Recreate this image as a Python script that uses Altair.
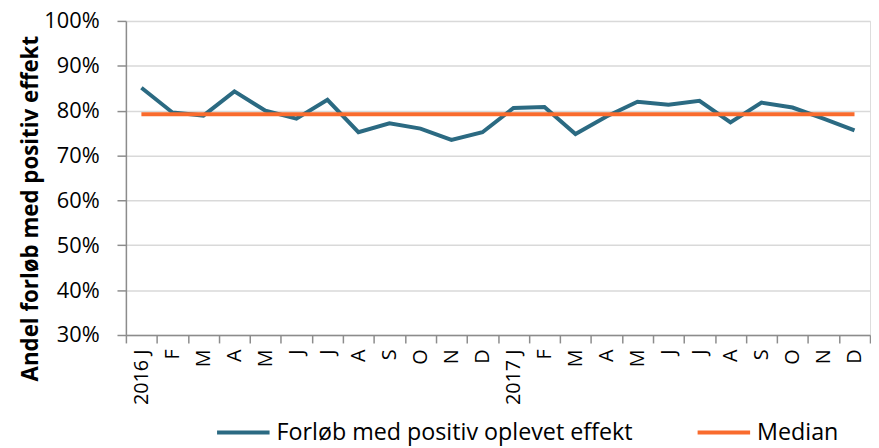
import json
import altair as alt
import pandas as pd

keys = ["2016-01", "2016-02", "2016-03", "2016-04", "2016-05", "2016-06",
        "2016-07", "2016-08", "2016-09", "2016-10", "2016-11", "2016-12",
        "2017-01", "2017-02", "2017-03", "2017-04", "2017-05", "2017-06",
        "2017-07", "2017-08", "2017-09", "2017-10", "2017-11", "2017-12"]
tick_labels = ["2016 J", "F", "M", "A", "M", "J", "J", "A", "S", "O", "N", "D",
               "2017 J", "F", "M", "A", "M", "J", "J", "A", "S", "O", "N", "D"]
positive = [85.1, 79.6, 78.9, 84.3, 80.0, 78.2, 82.4, 75.2, 77.2, 76.0, 73.5, 75.2,
            80.6, 80.8, 74.8, 78.7, 82.0, 81.3, 82.2, 77.4, 81.8, 80.7, 78.2, 75.6]
median_value = 79.2

series_names = ["Forløb med positiv oplevet effekt", "Median"]
colors = ["#2B6A82", "#F96B2D"]

rows = []
for k, v in zip(keys, positive):
    rows.append({"key": k, "series": series_names[0], "value": v / 100})
for k in keys:
    rows.append({"key": k, "series": series_names[1], "value": median_value / 100})
df = pd.DataFrame(rows)

label_expr = f"{json.dumps(tick_labels)}[indexof({json.dumps(keys)}, datum.value)]"

FONT = "Open Sans"

chart = alt.Chart(df).mark_line(strokeWidth=4, strokeCap="butt").encode(
    x=alt.X("key:N", sort=keys, bandPosition=0.5,
            scale=alt.Scale(type="band", paddingInner=0, paddingOuter=0),
            axis=alt.Axis(title=None, labelExpr=label_expr, labelAngle=-90,
                          labelAlign="right", labelBaseline="middle",
                          tickBand="extent", tickSize=8, labelPadding=6,
                          labelFont=FONT, labelFontSize=20, labelColor="#000000",
                          domainColor="#8C8C8C", tickColor="#8C8C8C",
                          domainWidth=1.5, tickWidth=1.5, grid=False)),
    y=alt.Y("value:Q",
            scale=alt.Scale(domain=[0.3, 1.0], nice=False, zero=False),
            axis=alt.Axis(format=".0%", values=[0.3, 0.4, 0.5, 0.6, 0.7, 0.8, 0.9, 1.0],
                          title="Andel  forløb med positiv effekt",
                          titleFont=FONT, titleFontSize=22.5, titleFontWeight="bold",
                          titleColor="#000000", titleAngle=270, titleAlign="center",
                          titleBaseline="alphabetic", titleX=-89, titleY=189,
                          labelFont=FONT, labelFontSize=22, labelColor="#000000",
                          labelPadding=18, tickSize=9,
                          domainColor="#8C8C8C", tickColor="#8C8C8C",
                          domainWidth=1.5, tickWidth=1.5,
                          grid=True, gridColor="#D9D9D9", gridWidth=1.5)),
    color=alt.Color("series:N", sort=series_names,
                    scale=alt.Scale(domain=series_names, range=colors),
                    legend=alt.Legend(title=None, orient="none", direction="horizontal",
                                      legendX=90, legendY=387,
                                      symbolType="stroke", symbolSize=2809,
                                      symbolStrokeWidth=4, labelOffset=5,
                                      columnPadding=57,
                                      labelFont=FONT, labelFontSize=23.5,
                                      labelColor="#000000", labelLimit=500)),
).properties(
    width=751, height=317,
    autosize=alt.AutoSizeParams(type="none"),
    padding={"left": 119, "top": 11, "right": 1, "bottom": 112},
).configure_view(stroke=None).configure(background="white")

chart.save("out.html", embed_options={"renderer": "svg", "actions": False})
